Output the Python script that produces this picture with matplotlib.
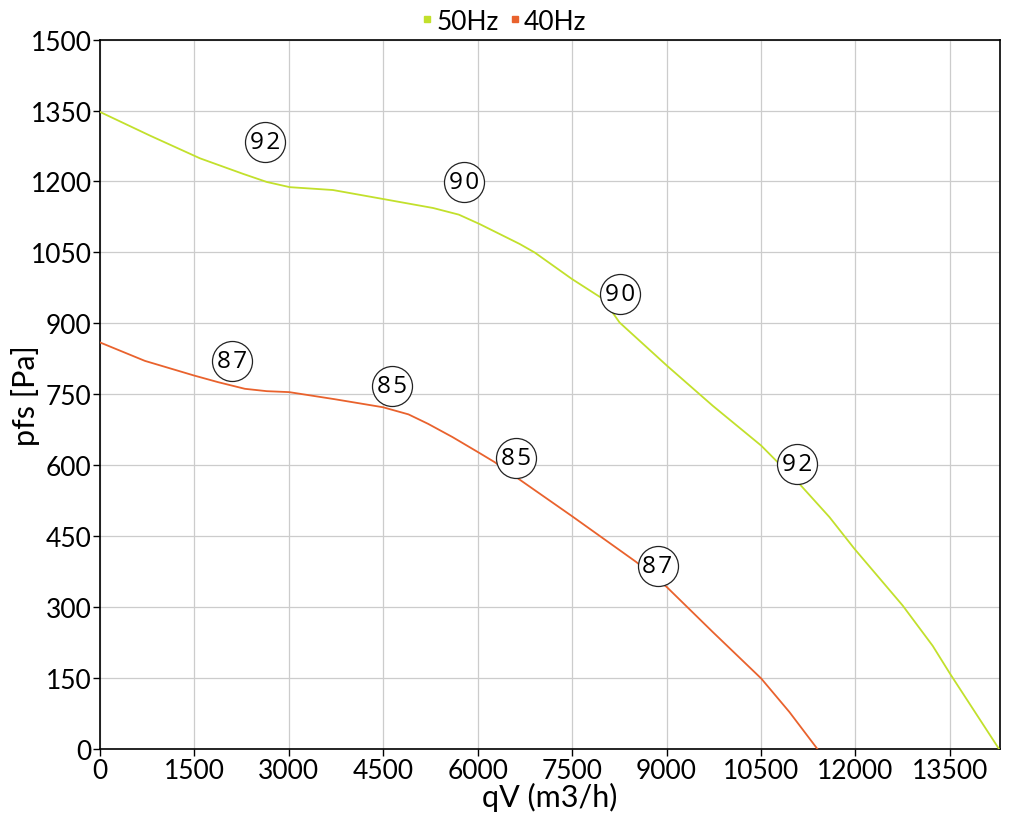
import numpy as np
import matplotlib
matplotlib.use("Agg")
import matplotlib.pyplot as plt
from matplotlib.lines import Line2D

# 50Hz curve
qv_50 = [0, 794, 1588, 2276, 2650, 3017, 3700, 4498, 5292, 5700, 6032, 6667, 6905, 7497, 7989,
         8254, 9005, 9735, 10503, 10794, 11111, 11587, 11984, 12751, 13227, 13503, 14286]
pfs_50 = [1347, 1297, 1249, 1216, 1199, 1188, 1182, 1163, 1144, 1130, 1110, 1068, 1050, 994, 952,
          902, 811, 726, 642, 603, 561, 491, 424, 304, 219, 160, 0]

# 40Hz curve
qv_40 = [0, 714, 1497, 1878, 2302, 2650, 3005, 3730, 4497, 4900, 5212, 5600, 6020, 6270, 6614,
         7497, 8519, 9005, 9735, 10503, 10952, 11402]
pfs_40 = [860, 821, 790, 776, 762, 757, 755, 740, 723, 708, 688, 660, 627, 607, 575,
          493, 396, 343, 248, 150, 79, 0]

# efficiency bubbles
lab_x_50 = [2619, 5778, 8254, 11079]
lab_y_50 = [1283, 1199, 962, 603]
lab_t_50 = ["92", "90", "90", "92"]
lab_x_40 = [2095, 4635, 6603, 8857]
lab_y_40 = [821, 768, 616, 388]
lab_t_40 = ["87", "85", "85", "87"]

green = "#c2e02c"
orange = "#e9622d"

plt.rcParams['font.family'] = ['Lato', 'DejaVu Sans']

fig = plt.figure(figsize=(10.2, 8.2), dpi=100)
ax = fig.add_axes([0.098, 0.0848, 0.882, 0.8658])

ax.plot(qv_50, pfs_50, color=green, lw=1.3, zorder=3)
ax.plot(qv_40, pfs_40, color=orange, lw=1.3, zorder=3)

for xs, ys, ts in [(lab_x_50, lab_y_50, lab_t_50), (lab_x_40, lab_y_40, lab_t_40)]:
    ax.scatter(xs, ys, s=830, facecolor="white", edgecolor="#222222", linewidth=0.9, zorder=4)
    for x, y, t in zip(xs, ys, ts):
        ax.text(x, y, "\u200a".join(t), ha="center", va="center", fontsize=17.5,
                family=["Open Sans", "DejaVu Sans"], color="black", zorder=5)

ax.set_xlim(0, 14290)
ax.set_ylim(0, 1500)
ax.set_xticks(np.arange(0, 14000, 1500))
ax.set_yticks(np.arange(0, 1501, 150))
ax.grid(True, color="#cccccc", lw=0.9)
ax.set_axisbelow(True)
for sp in ax.spines.values():
    sp.set_color("black")
    sp.set_linewidth(1.2)
ax.tick_params(axis="both", labelsize=19, length=5, width=1, pad=1, color="black")

ax.set_xlabel("qV (m3/h)", fontsize=22, va="center")
ax.xaxis.set_label_coords(0.5, -0.066)
ax.set_ylabel("pfs [Pa]", fontsize=22, va="center")
ax.yaxis.set_label_coords(-0.083, 0.5)

handles = [Line2D([], [], marker="s", ls="", color=green, markersize=4),
           Line2D([], [], marker="s", ls="", color=orange, markersize=4)]
fig.legend(handles, ["50Hz", "40Hz"], loc="center", bbox_to_anchor=(0.493, 0.973),
           ncol=2, frameon=False, fontsize=19, handletextpad=0.05, columnspacing=0.3,
           handlelength=0.6, borderpad=0)

fig.savefig("out.png", dpi=100)
